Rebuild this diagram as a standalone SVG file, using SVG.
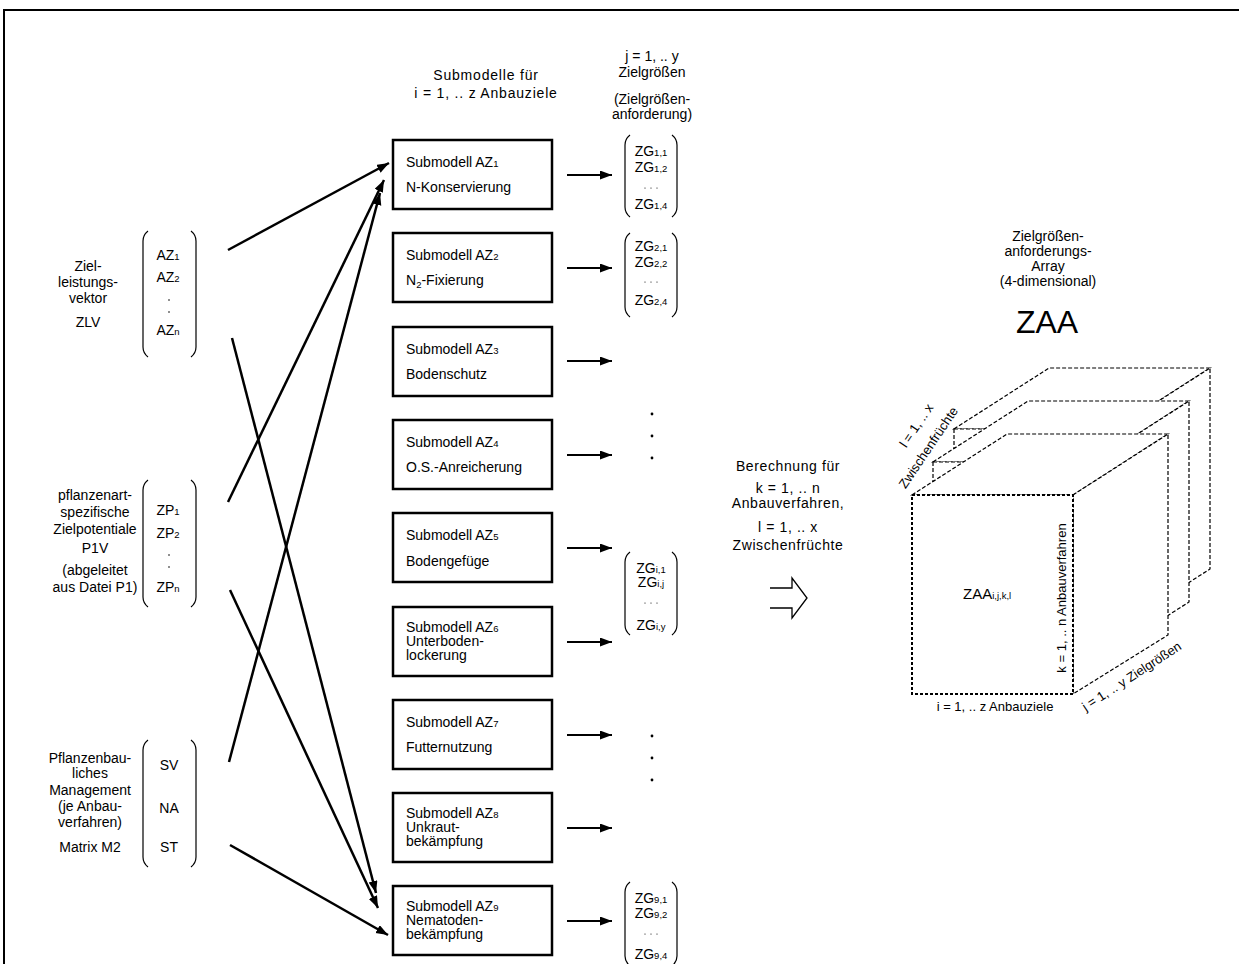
<svg xmlns="http://www.w3.org/2000/svg" width="1239" height="964" viewBox="0 0 1239 964">
<defs>
<marker id="ah" markerUnits="userSpaceOnUse" markerWidth="14" markerHeight="10" refX="12" refY="4.5" orient="auto">
<path d="M0,0 L12,4.5 L0,9 z" fill="#000"/>
</marker>
<style>
text{font-family:"Liberation Sans",Arial,sans-serif;font-size:14px;fill:#000}
.c{text-anchor:middle}
.s{font-size:9.5px}
.box{fill:#fff;stroke:#000;stroke-width:2.5}
.br{fill:none;stroke:#000;stroke-width:1.2}
.con{stroke:#000;stroke-width:2.5;fill:none;marker-end:url(#ah)}
.out{stroke:#000;stroke-width:2.2;fill:none;marker-end:url(#ah)}
.cube{fill:#fff;stroke:#000;stroke-width:1.2;stroke-dasharray:4 2}
.cf{fill:#fff;stroke:#000;stroke-width:2;stroke-dasharray:3 2}
</style>
</defs>
<rect width="1239" height="964" fill="#fff"/>
<path d="M1239,10 L4,10 L4,964" fill="none" stroke="#000" stroke-width="2"/>

<!-- left vectors -->
<g id="zlv">
<text class="c" x="88" y="271">Ziel-</text>
<text class="c" x="88" y="287">leistungs-</text>
<text class="c" x="88" y="303">vektor</text>
<text class="c" x="88" y="327">ZLV</text>
<path class="br" d="M148,231 Q143,235 143,241 L143,347 Q143,353 148,357"/>
<path class="br" d="M191,231 Q196,235 196,241 L196,347 Q196,353 191,357"/>
<text class="c" x="168" y="260">AZ<tspan class="s">1</tspan></text>
<text class="c" x="168" y="282">AZ<tspan class="s">2</tspan></text>
<circle cx="169" cy="300" r="0.8"/><circle cx="169" cy="312" r="0.8"/>
<text class="c" x="168" y="335">AZ<tspan class="s">n</tspan></text>
</g>

<g id="p1v">
<text class="c" x="95" y="500">pflanzenart-</text>
<text class="c" x="95" y="517">spezifische</text>
<text class="c" x="95" y="534">Zielpotentiale</text>
<text class="c" x="95" y="553">P1V</text>
<text class="c" x="95" y="575">(abgeleitet</text>
<text class="c" x="95" y="592">aus Datei P1)</text>
<path class="br" d="M148,480 Q143,484 143,490 L143,597 Q143,603 148,607"/>
<path class="br" d="M191,480 Q196,484 196,490 L196,597 Q196,603 191,607"/>
<text class="c" x="168" y="515">ZP<tspan class="s">1</tspan></text>
<text class="c" x="168" y="538">ZP<tspan class="s">2</tspan></text>
<circle cx="169" cy="555" r="0.8"/><circle cx="169" cy="567" r="0.8"/>
<text class="c" x="168" y="592">ZP<tspan class="s">n</tspan></text>
</g>

<g id="m2">
<text class="c" x="90" y="763">Pflanzenbau-</text>
<text class="c" x="90" y="778">liches</text>
<text class="c" x="90" y="795">Management</text>
<text class="c" x="90" y="811">(je Anbau-</text>
<text class="c" x="90" y="827">verfahren)</text>
<text class="c" x="90" y="852">Matrix M2</text>
<path class="br" d="M148,740 Q143,744 143,750 L143,857 Q143,863 148,867"/>
<path class="br" d="M191,740 Q196,744 196,750 L196,857 Q196,863 191,867"/>
<text class="c" x="169" y="770">SV</text>
<text class="c" x="169" y="813">NA</text>
<text class="c" x="169" y="852">ST</text>
</g>

<!-- titles -->
<g id="titles">
<text class="c" x="486" y="80" letter-spacing="0.8">Submodelle für</text>
<text class="c" x="486" y="98" letter-spacing="0.8">i = 1, .. z Anbauziele</text>
<text class="c" x="652" y="61">j = 1, .. y</text>
<text class="c" x="652" y="77">Zielgrößen</text>
<text class="c" x="652" y="104">(Zielgrößen-</text>
<text class="c" x="652" y="119">anforderung)</text>
</g>

<!-- submodel boxes -->
<g id="sm1"><rect class="box" x="393" y="140" width="159" height="69"/>
<text x="406" y="167">Submodell AZ<tspan class="s">1</tspan></text><text x="406" y="192">N-Konservierung</text></g>
<g id="sm2"><rect class="box" x="393" y="233" width="159" height="69"/>
<text x="406" y="260">Submodell AZ<tspan class="s">2</tspan></text><text x="406" y="285">N<tspan class="s" dy="3">2</tspan><tspan dy="-3">-Fixierung</tspan></text></g>
<g id="sm3"><rect class="box" x="393" y="327" width="159" height="69"/>
<text x="406" y="354">Submodell AZ<tspan class="s">3</tspan></text><text x="406" y="379">Bodenschutz</text></g>
<g id="sm4"><rect class="box" x="393" y="420" width="159" height="69"/>
<text x="406" y="447">Submodell AZ<tspan class="s">4</tspan></text><text x="406" y="472">O.S.-Anreicherung</text></g>
<g id="sm5"><rect class="box" x="393" y="513" width="159" height="69"/>
<text x="406" y="540">Submodell AZ<tspan class="s">5</tspan></text><text x="406" y="566">Bodengefüge</text></g>
<g id="sm6"><rect class="box" x="393" y="607" width="159" height="69"/>
<text x="406" y="632">Submodell AZ<tspan class="s">6</tspan></text><text x="406" y="646">Unterboden-</text><text x="406" y="660">lockerung</text></g>
<g id="sm7"><rect class="box" x="393" y="700" width="159" height="69"/>
<text x="406" y="727">Submodell AZ<tspan class="s">7</tspan></text><text x="406" y="752">Futternutzung</text></g>
<g id="sm8"><rect class="box" x="393" y="793" width="159" height="69"/>
<text x="406" y="818">Submodell AZ<tspan class="s">8</tspan></text><text x="406" y="832">Unkraut-</text><text x="406" y="846">bekämpfung</text></g>
<g id="sm9"><rect class="box" x="393" y="886" width="159" height="69"/>
<text x="406" y="911">Submodell AZ<tspan class="s">9</tspan></text><text x="406" y="925">Nematoden-</text><text x="406" y="939">bekämpfung</text></g>

<!-- ZG vectors -->
<g id="zg1">
<path class="br" d="M630,135 Q625,139 625,145 L625,207 Q625,213 630,217"/>
<path class="br" d="M672,135 Q677,139 677,145 L677,207 Q677,213 672,217"/>
<text class="c" x="651" y="156">ZG<tspan class="s">1,1</tspan></text>
<text class="c" x="651" y="172">ZG<tspan class="s">1,2</tspan></text>
<circle cx="645" cy="188" r="0.6"/><circle cx="651" cy="188" r="0.6"/><circle cx="657" cy="188" r="0.6"/>
<text class="c" x="651" y="209">ZG<tspan class="s">1,4</tspan></text>
</g>
<g id="zg2">
<path class="br" d="M630,233 Q625,237 625,243 L625,307 Q625,313 630,317"/>
<path class="br" d="M672,233 Q677,237 677,243 L677,307 Q677,313 672,317"/>
<text class="c" x="651" y="251">ZG<tspan class="s">2,1</tspan></text>
<text class="c" x="651" y="267">ZG<tspan class="s">2,2</tspan></text>
<circle cx="645" cy="282" r="0.6"/><circle cx="651" cy="282" r="0.6"/><circle cx="657" cy="282" r="0.6"/>
<text class="c" x="651" y="305">ZG<tspan class="s">2,4</tspan></text>
</g>
<g id="zgi">
<path class="br" d="M630,552 Q625,556 625,562 L625,625 Q625,631 630,635"/>
<path class="br" d="M672,552 Q677,556 677,562 L677,625 Q677,631 672,635"/>
<text class="c" x="651" y="573">ZG<tspan class="s">i,1</tspan></text>
<text class="c" x="651" y="587">ZG<tspan class="s">i,j</tspan></text>
<circle cx="645" cy="603" r="0.6"/><circle cx="651" cy="603" r="0.6"/><circle cx="657" cy="603" r="0.6"/>
<text class="c" x="651" y="630">ZG<tspan class="s">i,y</tspan></text>
</g>
<g id="zg9">
<path class="br" d="M630,882 Q625,886 625,892 L625,956 Q625,962 630,966"/>
<path class="br" d="M672,882 Q677,886 677,892 L677,956 Q677,962 672,966"/>
<text class="c" x="651" y="903">ZG<tspan class="s">9,1</tspan></text>
<text class="c" x="651" y="918">ZG<tspan class="s">9,2</tspan></text>
<circle cx="645" cy="934" r="0.6"/><circle cx="651" cy="934" r="0.6"/><circle cx="657" cy="934" r="0.6"/>
<text class="c" x="651" y="959">ZG<tspan class="s">9,4</tspan></text>
</g>
<g id="vdots">
<circle cx="652" cy="414" r="1.4"/><circle cx="652" cy="436" r="1.4"/><circle cx="652" cy="458" r="1.4"/>
<circle cx="652" cy="736" r="1.4"/><circle cx="652" cy="758" r="1.4"/><circle cx="652" cy="780" r="1.4"/>
</g>

<!-- connectors -->
<g id="connectors">
<line class="con" x1="228" y1="250" x2="389" y2="163"/>
<line class="con" x1="228" y1="502" x2="384" y2="180"/>
<line class="con" x1="229" y1="762" x2="380" y2="193"/>
<line class="con" x1="232" y1="338" x2="376" y2="893"/>
<line class="con" x1="230" y1="590" x2="378" y2="908"/>
<line class="con" x1="230" y1="845" x2="388" y2="935"/>
<line class="out" x1="567" y1="175" x2="612" y2="175"/>
<line class="out" x1="567" y1="268" x2="612" y2="268"/>
<line class="out" x1="567" y1="361" x2="612" y2="361"/>
<line class="out" x1="567" y1="455" x2="612" y2="455"/>
<line class="out" x1="567" y1="548" x2="612" y2="548"/>
<line class="out" x1="567" y1="642" x2="612" y2="642"/>
<line class="out" x1="567" y1="735" x2="612" y2="735"/>
<line class="out" x1="567" y1="828" x2="612" y2="828"/>
<line class="out" x1="567" y1="921" x2="612" y2="921"/>
</g>

<!-- calculation label and hollow arrow -->
<g id="calc">
<text class="c" x="788" y="471" letter-spacing="0.6">Berechnung für</text>
<text class="c" x="788" y="493" letter-spacing="0.6">k = 1, .. n</text>
<text class="c" x="788" y="508" letter-spacing="0.6">Anbauverfahren,</text>
<text class="c" x="788" y="532" letter-spacing="0.6">l = 1, .. x</text>
<text class="c" x="788" y="550" letter-spacing="0.6">Zwischenfrüchte</text>
<path d="M770,588 L792,588 L792,578 L807,598 L792,618 L792,608 L770,608" fill="none" stroke="#000" stroke-width="1.3"/>
</g>

<!-- ZAA label -->
<g id="zaa-title">
<text class="c" x="1048" y="241">Zielgrößen-</text>
<text class="c" x="1048" y="256">anforderungs-</text>
<text class="c" x="1048" y="271">Array</text>
<text class="c" x="1048" y="286">(4-dimensional)</text>
<text class="c" x="1047" y="333" style="font-size:32px">ZAA</text>
</g>

<!-- cube -->
<g id="cube">
<polygon class="cube" points="954,429 1049,368 1210,368 1115,429"/>
<polygon class="cube" points="1115,429 1210,368 1210,569 1115,630"/>
<rect class="cube" x="954" y="429" width="161" height="201"/>
<polygon class="cube" points="933,462 1028,401 1189,401 1094,462"/>
<polygon class="cube" points="1094,462 1189,401 1189,602 1094,663"/>
<rect class="cube" x="933" y="462" width="161" height="201"/>
<polygon class="cube" points="912,495 1007,434 1168,434 1073,495"/>
<polygon class="cube" points="1073,495 1168,434 1168,635 1073,694"/>
<rect class="cf" x="912" y="495" width="161" height="199"/>
<text x="963" y="599" style="font-size:15px">ZAA<tspan class="s">i,j,k,l</tspan></text>
<text class="c" x="995" y="711" style="font-size:13px">i = 1, .. z Anbauziele</text>
<text class="c" transform="translate(1066,598) rotate(-90)" style="font-size:13px">k = 1, .. n Anbauverfahren</text>
<text class="c" transform="translate(1134,680) rotate(-33)" style="font-size:13px">j = 1, .. y Zielgrößen</text>
<text class="c" transform="translate(920,428) rotate(-56)" style="font-size:13px">l = 1, .. x</text>
<text class="c" transform="translate(932,450) rotate(-56)" style="font-size:13px">Zwischenfrüchte</text>
</g>
</svg>
